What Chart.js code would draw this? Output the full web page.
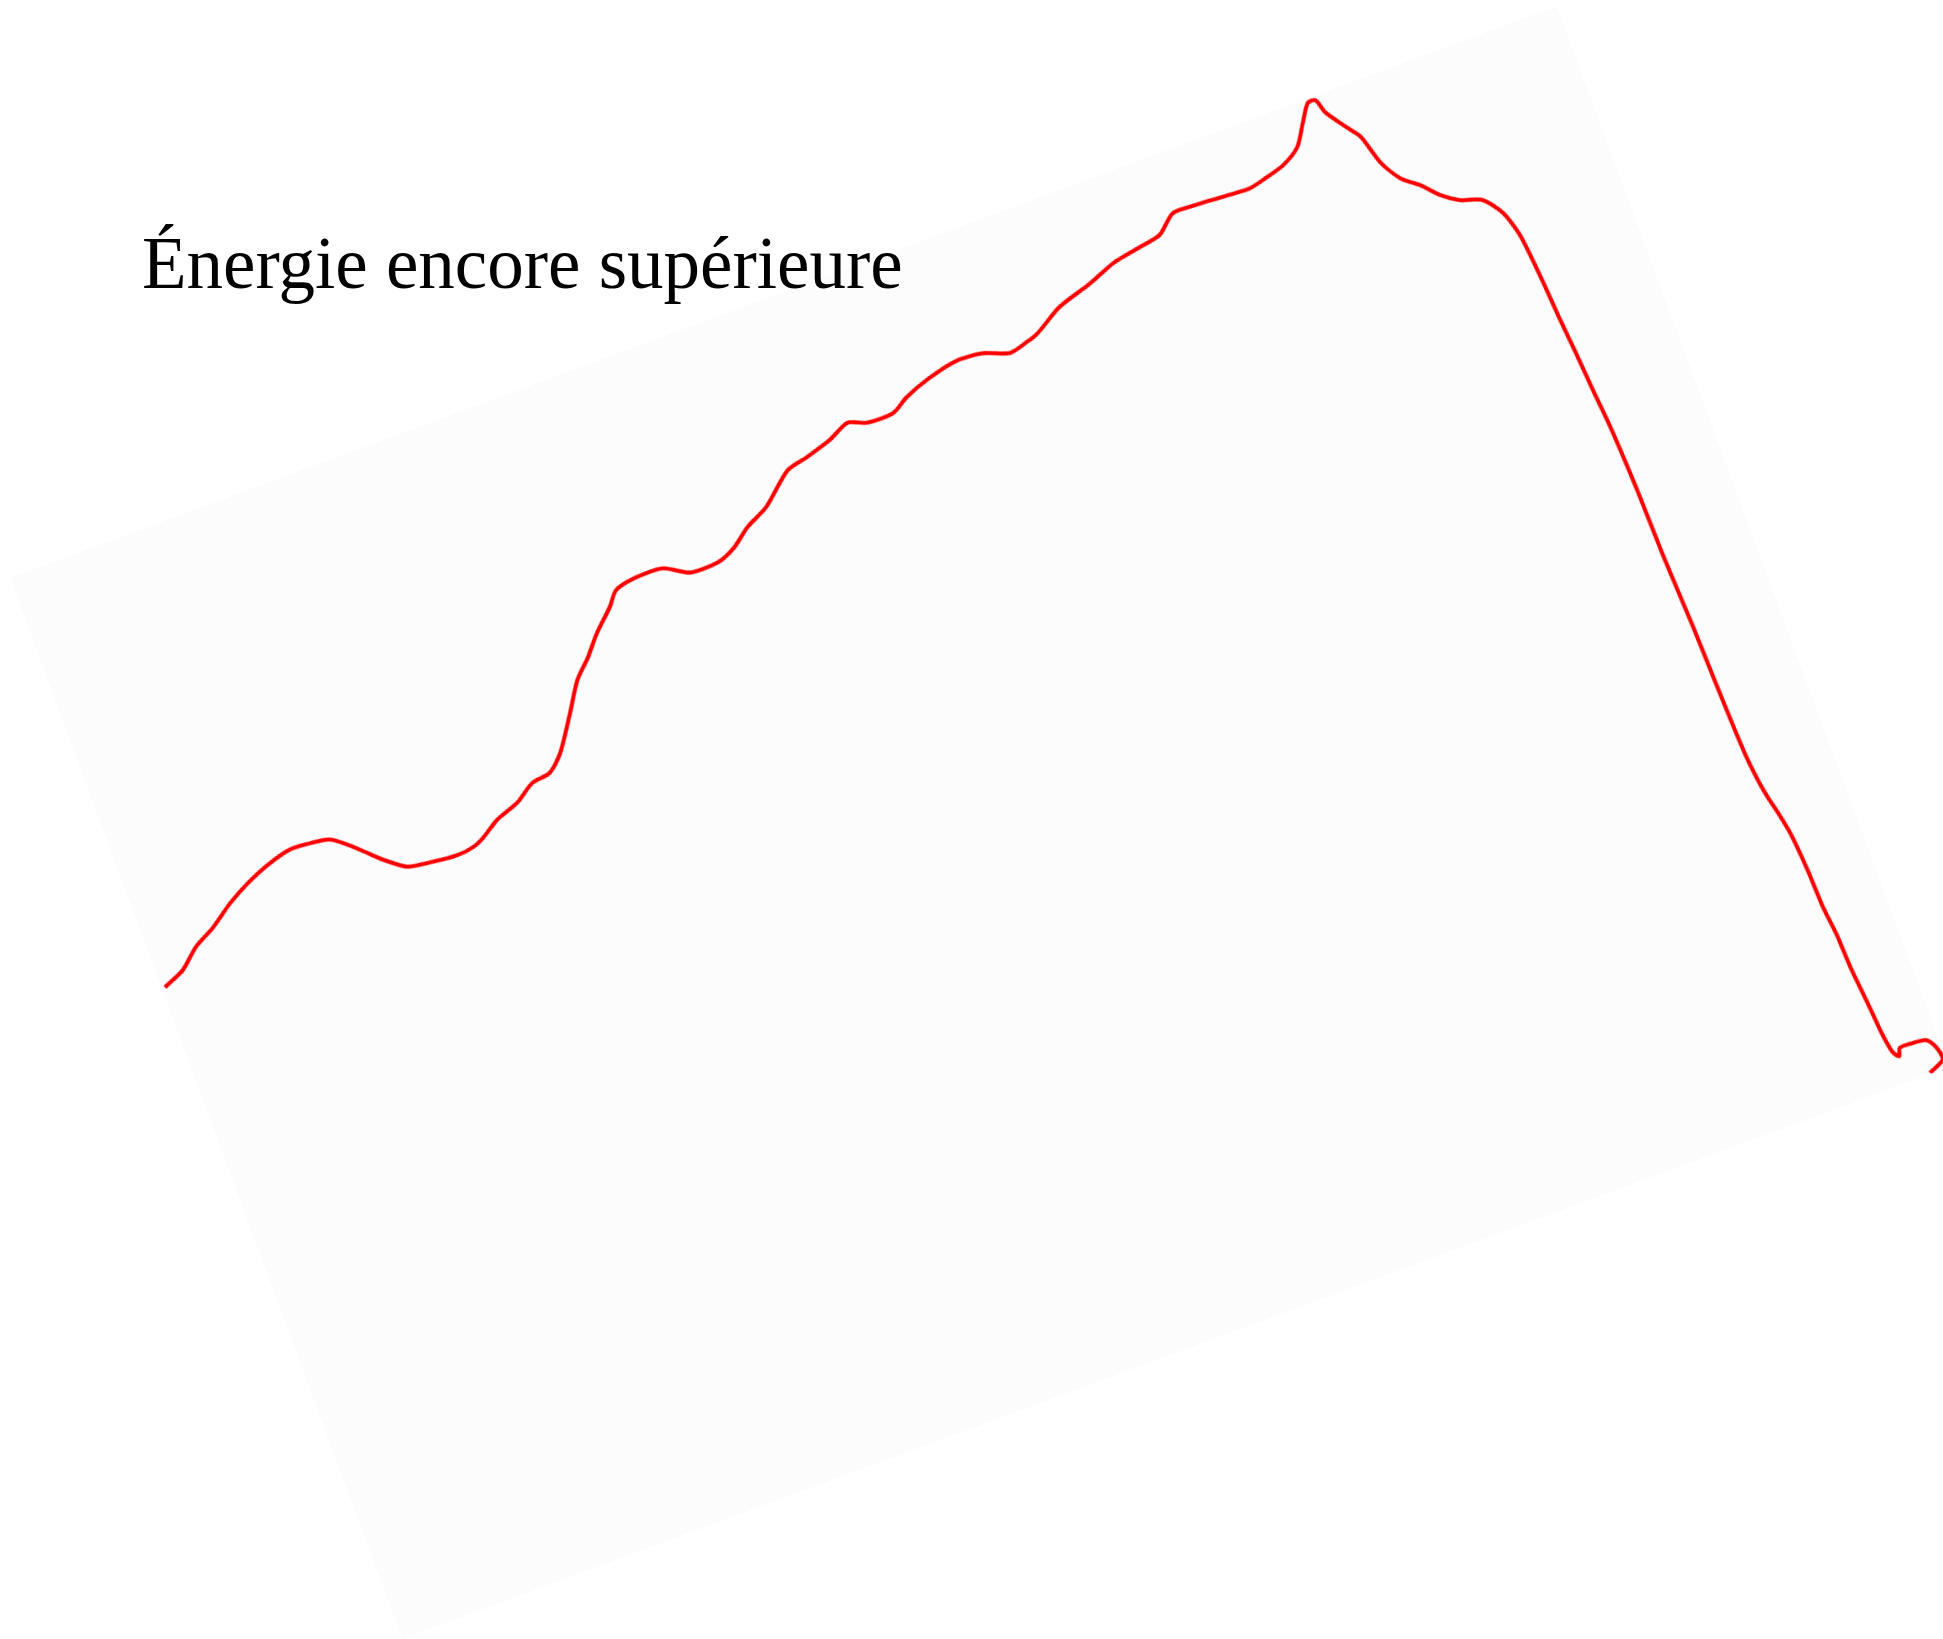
<!DOCTYPE html>
<html lang="fr">
<head>
<meta charset="utf-8">
<title>Énergie encore supérieure</title>
<script src="https://cdn.jsdelivr.net/npm/chart.js@4/dist/chart.umd.min.js"></script>
<style>
  html, body { margin: 0; padding: 0; background: #ffffff; width: 1943px; height: 1639px; overflow: hidden; }
  #panel {
    position: absolute;
    left: 155px; top: 257px;
    width: 1649px; height: 1131px;
    background: #fcfcfc;
    transform: rotate(-20.29deg);
    transform-origin: 50% 50%;
    z-index: 1;
  }
  #panel canvas { display: block; filter: blur(0.7px); }
  #title {
    position: absolute;
    left: 142px; top: 227px;
    font-family: "Liberation Serif", "Times New Roman", serif;
    font-size: 73px;
    line-height: 73px;
    color: #000;
    white-space: nowrap;
    z-index: 2;
  }
</style>
</head>
<body>
<div id="panel"><canvas id="chart" width="1649" height="1131"></canvas></div>
<div id="title">Énergie encore supérieure</div>
<script>
// Horizontal position of each sample (0–100 across the plot)
const positions = [
  0.2, 1.6, 2.8, 4.2, 5.7, 7.1, 8.6, 10.2, 11.5, 12.7,
  13.7, 14.5, 15.3, 16.5, 18.1, 19.6, 20.7, 21.5, 22.6, 24.1,
  25.4, 26.6, 27.6, 29.0, 30.1, 31.2, 32.2, 33.5, 34.2, 35.2,
  37.3, 38.8, 40.6, 41.8, 43.0, 44.5, 46.5, 47.9, 49.5, 50.9,
  52.0, 53.7, 54.8, 56.5, 58.4, 60.1, 61.6, 62.8, 63.6, 65.4,
  67.6, 69.4, 71.2, 72.6, 73.8, 75.1, 77.3, 78.7, 79.9, 81.1,
  82.3, 83.1, 83.8, 84.3, 84.6, 85.5, 86.1, 86.7, 87.5, 88.5,
  89.4, 90.4, 91.7, 92.6, 93.1, 93.4, 93.6, 93.8, 94.0, 94.2,
  94.4, 94.5, 94.7, 94.8, 94.9, 95.0, 95.2, 95.4, 95.6, 95.9,
  96.1, 96.2, 96.4, 96.5, 96.7, 96.8, 96.9, 97.1, 97.4, 97.6,
  98.4, 99.3, 99.7, 99.8, 98.8
];

// Energy level at each sample (0–100)
const energy = [
  61.3, 62.2, 63.7, 64.8, 66.3, 67.4, 68.3, 68.9, 68.8, 68.5,
  67.4, 66.3, 65.2, 63.9, 63.5, 63.3, 63.5, 64.0, 65.0, 65.8,
  67.0, 67.3, 68.6, 71.6, 74.1, 75.7, 77.4, 79.2, 80.4, 80.8,
  80.8, 79.6, 79.6, 80.3, 81.6, 82.7, 85.1, 85.6, 86.3, 87.2,
  86.6, 86.6, 87.5, 88.4, 89.0, 88.8, 88.0, 88.4, 88.8, 90.3,
  91.3, 92.3, 92.8, 93.2, 94.6, 94.6, 94.4, 94.3, 94.7, 95.2,
  96.3, 98.1, 99.6, 99.6, 98.3, 96.4, 95.2, 92.4, 90.5, 89.3,
  87.9, 86.9, 86.2, 84.5, 82.1, 77.9, 73.9, 70.6, 66.8, 63.5,
  57.4, 51.1, 44.5, 39.4, 35.0, 31.9, 29.3, 27.7, 26.5, 24.2,
  20.7, 17.1, 14.4, 11.2, 8.1, 6.4, 4.7, 3.0, 2.4, 3.1,
  3.1, 2.9, 2.0, 0.8, 0.1
];

const points = positions.map((x, i) => ({ x: x, y: energy[i] }));

new Chart(document.getElementById('chart'), {
  type: 'line',
  data: {
    datasets: [{
      label: 'Énergie',
      data: points,
      borderColor: 'rgb(255, 0, 0)',
      borderWidth: 4,
      pointRadius: 0,
      tension: 0.25,
      fill: false
    }]
  },
  options: {
    responsive: false,
    animation: false,
    devicePixelRatio: 1,
    layout: { padding: 0 },
    plugins: { legend: { display: false }, tooltip: { enabled: false }, title: { display: false } },
    scales: {
      x: { type: 'linear', min: 0, max: 100, display: false },
      y: { type: 'linear', min: 0, max: 100, display: false }
    }
  }
});
</script>
</body>
</html>
